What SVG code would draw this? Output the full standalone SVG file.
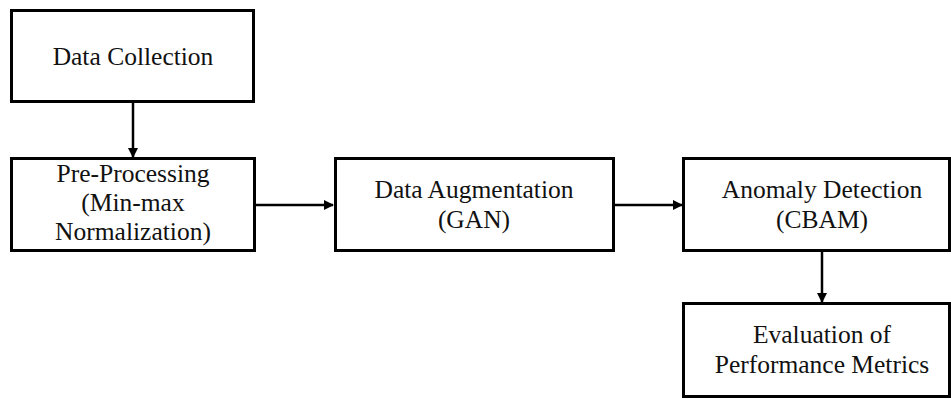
<svg xmlns="http://www.w3.org/2000/svg" width="951" height="399" viewBox="0 0 951 399">
<style>
.box{fill:#fff;stroke:#000;stroke-width:3}
.t{font-family:'Liberation Serif','Times New Roman','DejaVu Serif',serif;font-size:25.5px;fill:#111;text-anchor:middle}
.c{stroke:#000;stroke-width:2.5;fill:none}
</style>
<defs>
<marker id="ah" markerWidth="10" markerHeight="10" refX="9" refY="5" orient="auto" markerUnits="userSpaceOnUse" viewBox="0 0 10 10">
<path d="M0,0 L10,5 L0,10 z" fill="#000"/>
</marker>
</defs>
<rect width="951" height="399" fill="#fff"/>
<g id="connectors">
<line class="c" x1="133" y1="102" x2="133" y2="157" marker-end="url(#ah)"/>
<line class="c" x1="254" y1="205" x2="333" y2="205" marker-end="url(#ah)"/>
<line class="c" x1="613" y1="205" x2="682" y2="205" marker-end="url(#ah)"/>
<line class="c" x1="822" y1="251" x2="822" y2="302" marker-end="url(#ah)"/>
</g>
<g id="n1"><rect class="box" x="11.5" y="10.5" width="242" height="91"/><text class="t" x="133" y="65">Data Collection</text></g>
<g id="n2"><rect class="box" x="11.5" y="158.5" width="243" height="92"/><text class="t" x="133" y="182">Pre-Processing</text><text class="t" x="133" y="211">(Min-max</text><text class="t" x="133" y="240">Normalization)</text></g>
<g id="n3"><rect class="box" x="335.5" y="158.5" width="278" height="92"/><text class="t" x="474" y="198">Data Augmentation</text><text class="t" x="474" y="228">(GAN)</text></g>
<g id="n4"><rect class="box" x="683.5" y="158.5" width="266" height="92"/><text class="t" x="822" y="198">Anomaly Detection</text><text class="t" x="822" y="228">(CBAM)</text></g>
<g id="n5"><rect class="box" x="683.5" y="303.5" width="266" height="93"/><text class="t" x="822" y="343">Evaluation of</text><text class="t" x="822" y="373">Performance Metrics</text></g>
</svg>
